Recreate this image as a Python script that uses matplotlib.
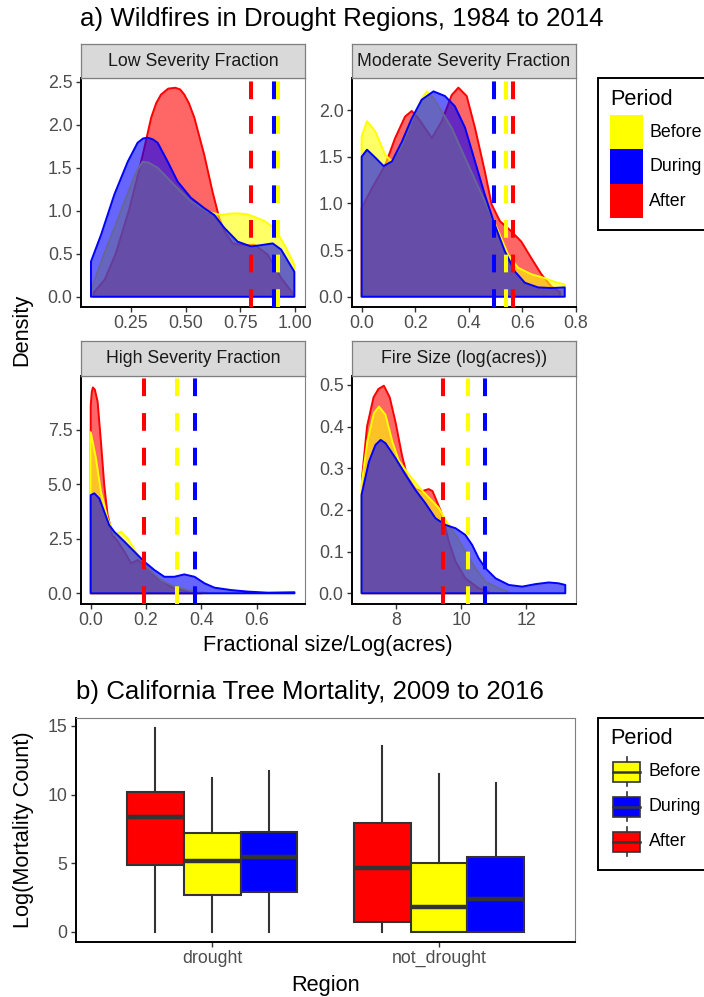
import matplotlib
matplotlib.use("Agg")
import matplotlib.pyplot as plt
from matplotlib.patches import Rectangle
from matplotlib.lines import Line2D

plt.rcParams['font.family'] = ['Liberation Sans', 'DejaVu Sans']

W, H = 704, 997

# ---- data ----
periods = ['Before', 'During', 'After']
draw_order = ['After', 'Before', 'During']
colours = {'Before': '#FFFF00', 'During': '#0000FF', 'After': '#FF0000'}

# Low Severity Fraction
low_after_x = [0.08, 0.13, 0.18, 0.24, 0.28, 0.311, 0.342, 0.365, 0.387, 0.42, 0.453, 0.475,
               0.494, 0.515, 0.54, 0.585, 0.623, 0.654, 0.68, 0.715, 0.76, 0.814, 0.875,
               0.936, 0.99]
low_after_y = [0.05, 0.2, 0.5, 1.0, 1.4, 1.73, 2.08, 2.25, 2.35, 2.42, 2.43, 2.41,
               2.35, 2.25, 2.08, 1.65, 1.22, 0.91, 0.75, 0.62, 0.6, 0.605, 0.49,
               0.22, 0.04]
low_before_x = [0.067, 0.12, 0.174, 0.25, 0.28, 0.303, 0.33, 0.372, 0.448, 0.524, 0.6,
                0.662, 0.7, 0.738, 0.78, 0.814, 0.86, 0.906, 0.959, 0.997]
low_before_y = [0.08, 0.45, 0.8, 1.3, 1.48, 1.57, 1.56, 1.50, 1.30, 1.11, 0.99,
                0.95, 0.965, 0.97, 0.96, 0.93, 0.88, 0.80, 0.57, 0.37]
low_during_x = [0.067, 0.113, 0.174, 0.235, 0.28, 0.305, 0.326, 0.35, 0.372, 0.418, 0.463,
                0.524, 0.585, 0.631, 0.677, 0.738, 0.799, 0.845, 0.898, 0.936, 0.997]
low_during_y = [0.41, 0.72, 1.19, 1.57, 1.79, 1.84, 1.85, 1.83, 1.79, 1.57, 1.34,
                1.15, 1.03, 0.95, 0.80, 0.64, 0.585, 0.60, 0.62, 0.55, 0.29]
low_means = {'After': 0.797, 'Before': 0.923, 'During': 0.906}

# Moderate Severity Fraction
mod_after_x = [0.0, 0.038, 0.088, 0.125, 0.162, 0.187, 0.212, 0.262, 0.299, 0.336, 0.361,
               0.392, 0.423, 0.46, 0.485, 0.516, 0.559, 0.596, 0.634, 0.671, 0.708, 0.74]
mod_after_y = [0.95, 1.16, 1.41, 1.70, 1.93, 1.99, 1.91, 1.70, 1.88, 2.16, 2.24,
               2.15, 1.81, 1.34, 0.99, 0.81, 0.70, 0.59, 0.41, 0.24, 0.11, 0.05]
mod_before_x = [0.0, 0.02, 0.051, 0.088, 0.113, 0.15, 0.19, 0.22, 0.243, 0.27, 0.336, 0.398,
                0.46, 0.51, 0.547, 0.584, 0.634, 0.683, 0.72, 0.758]
mod_before_y = [1.72, 1.88, 1.77, 1.52, 1.45, 1.62, 1.9, 2.1, 2.2, 2.12, 1.81, 1.41,
                1.02, 0.70, 0.45, 0.31, 0.24, 0.20, 0.16, 0.13]
mod_during_x = [0.0, 0.02, 0.051, 0.082, 0.113, 0.15, 0.187, 0.224, 0.268, 0.311, 0.348,
                0.386, 0.423, 0.46, 0.497, 0.534, 0.572, 0.609, 0.658, 0.708, 0.758]
mod_during_y = [1.50, 1.575, 1.49, 1.40, 1.45, 1.66, 1.91, 2.11, 2.20, 2.15, 2.04,
                1.81, 1.45, 1.09, 0.77, 0.49, 0.27, 0.15, 0.10, 0.093, 0.10]
mod_means = {'After': 0.564, 'Before': 0.538, 'During': 0.494}

# High Severity Fraction
high_after_x = [0.0, 0.004, 0.008, 0.015, 0.025, 0.037, 0.049, 0.061, 0.079, 0.098, 0.122,
                0.146, 0.17, 0.206, 0.242, 0.29, 0.35, 0.4]
high_after_y = [8.6, 9.25, 9.45, 9.35, 8.8, 6.96, 4.97, 3.6, 2.68, 2.37, 1.91,
                1.38, 1.53, 1.15, 0.69, 0.31, 0.08, 0.01]
high_before_x = [0.0, 0.019, 0.037, 0.061, 0.085, 0.11, 0.134, 0.17, 0.206, 0.254, 0.302,
                 0.363, 0.423]
high_before_y = [7.4, 6.2, 4.66, 3.44, 2.68, 2.83, 2.52, 1.76, 1.15, 0.61, 0.31, 0.11, 0.03]
high_during_x = [0.0, 0.013, 0.031, 0.049, 0.067, 0.085, 0.122, 0.158, 0.194, 0.23, 0.266,
                 0.302, 0.338, 0.375, 0.411, 0.447, 0.507, 0.567, 0.64, 0.736]
high_during_y = [4.51, 4.59, 4.36, 3.75, 3.13, 2.83, 2.37, 1.91, 1.45, 1.07, 0.76,
                 0.76, 0.87, 0.76, 0.46, 0.26, 0.15, 0.08, 0.03, 0.05]
high_means = {'After': 0.191, 'Before': 0.31, 'During': 0.377}

# Fire Size (log(acres))
fire_after_x = [6.95, 7.1, 7.3, 7.45, 7.62, 7.8, 7.98, 8.18, 8.34, 8.6, 8.8, 9.0, 9.12,
                9.36, 9.47, 9.62, 9.83, 10.13, 10.54, 10.85]
fire_after_y = [0.28, 0.40, 0.47, 0.49, 0.498, 0.47, 0.41, 0.33, 0.28, 0.25, 0.245, 0.25,
                0.245, 0.20, 0.172, 0.124, 0.076, 0.036, 0.012, 0.003]
fire_before_x = [6.93, 7.11, 7.31, 7.47, 7.67, 7.88, 8.08, 8.39, 8.7, 9.0, 9.31, 9.52,
                 9.83, 10.13, 10.44, 10.75, 11.16, 11.5]
fire_before_y = [0.26, 0.364, 0.432, 0.448, 0.428, 0.364, 0.318, 0.285, 0.255, 0.23, 0.205,
                 0.175, 0.14, 0.10, 0.06, 0.028, 0.012, 0.002]
fire_during_x = [6.93, 7.16, 7.36, 7.52, 7.67, 7.98, 8.29, 8.59, 8.9, 9.21, 9.52, 9.83,
                 10.13, 10.34, 10.54, 10.75, 11.06, 11.47, 11.88, 12.29, 12.7, 13.0, 13.21]
fire_during_y = [0.236, 0.316, 0.356, 0.368, 0.36, 0.324, 0.284, 0.248, 0.216, 0.18, 0.164,
                 0.156, 0.14, 0.116, 0.084, 0.06, 0.036, 0.02, 0.016, 0.022, 0.026, 0.024, 0.02]
fire_means = {'After': 9.43, 'Before': 10.2, 'During': 10.75}

# tree mortality boxplots: [whisker low, q1, median, q3, whisker high] per region
regions = ['drought', 'not_drought']
mort_after = [[0, 4.87, 8.39, 10.22, 14.84], [0, 0.68, 4.62, 7.91, 13.55]]
mort_before = [[0, 2.68, 5.18, 7.23, 11.24], [0, 0.0, 1.82, 4.99, 11.48]]
mort_during = [[0, 2.92, 5.47, 7.30, 11.68], [0, 0.0, 2.36, 5.43, 10.83]]

# ---- layout helpers (pixel boxes) ----
fig = plt.figure(figsize=(W / 100, H / 100), dpi=100)


def px_axes(l, t, r, b):
    return fig.add_axes([l / W, 1 - b / H, (r - l) / W, (b - t) / H])


def px_text(x, y, s, **kw):
    fig.text(x / W, 1 - y / H, s, **kw)


TICK_COL = '#4D4D4D'


def style_axes(ax):
    for s in ['top', 'right']:
        ax.spines[s].set_color('#7F7F7F')
        ax.spines[s].set_linewidth(0.8)
    for s in ['left', 'bottom']:
        ax.spines[s].set_color('black')
        ax.spines[s].set_linewidth(1.4)
    ax.tick_params(length=3.6, width=1.0, color='#333333', labelcolor=TICK_COL,
                   labelsize=12.8, pad=2.5)


panels = [
    ('Low Severity Fraction', (81, 78.3, 305, 306.7), (0.0214, 1.0457), (-0.116, 2.54),
     [0.25, 0.5, 0.75, 1.0], ['0.25', '0.50', '0.75', '1.00'],
     [0, 0.5, 1.0, 1.5, 2.0, 2.5], ['0.0', '0.5', '1.0', '1.5', '2.0', '2.5'],
     {'After': (low_after_x, low_after_y), 'Before': (low_before_x, low_before_y),
      'During': (low_during_x, low_during_y)}, low_means),
    ('Moderate Severity Fraction', (352, 78.3, 576, 306.7), (-0.036, 0.797), (-0.107, 2.34),
     [0, 0.2, 0.4, 0.6, 0.8], ['0.0', '0.2', '0.4', '0.6', '0.8'],
     [0, 0.5, 1.0, 1.5, 2.0], ['0.0', '0.5', '1.0', '1.5', '2.0'],
     {'After': (mod_after_x, mod_after_y), 'Before': (mod_before_x, mod_before_y),
      'During': (mod_during_x, mod_during_y)}, mod_means),
    ('High Severity Fraction', (81, 375.7, 305, 604), (-0.035, 0.774), (-0.49, 9.99),
     [0, 0.2, 0.4, 0.6], ['0.0', '0.2', '0.4', '0.6'],
     [0, 2.5, 5.0, 7.5], ['0.0', '2.5', '5.0', '7.5'],
     {'After': (high_after_x, high_after_y), 'Before': (high_before_x, high_before_y),
      'During': (high_during_x, high_during_y)}, high_means),
    ('Fire Size (log(acres))', (352, 375.7, 576, 604), (6.637, 13.54), (-0.0257, 0.522),
     [8, 10, 12], ['8', '10', '12'],
     [0, 0.1, 0.2, 0.3, 0.4, 0.5], ['0.0', '0.1', '0.2', '0.3', '0.4', '0.5'],
     {'After': (fire_after_x, fire_after_y), 'Before': (fire_before_x, fire_before_y),
      'During': (fire_during_x, fire_during_y)}, fire_means),
]

for title, (l, t, r, b), xlim, ylim, xt, xtl, yt, ytl, curves, means in panels:
    ax = px_axes(l, t, r, b)
    for p in draw_order:
        xs, ys = curves[p]
        px = [xs[0]] + list(xs) + [xs[-1]]
        py = [0] + list(ys) + [0]
        ax.fill(px, py, facecolor=colours[p], alpha=0.6, edgecolor='none', zorder=2)
        ax.fill(px, py, facecolor='none', edgecolor=colours[p], linewidth=1.4,
                joinstyle='round', zorder=2)
    for p in draw_order:
        ax.plot([means[p], means[p]], [ylim[0], ylim[1]], color=colours[p], linewidth=2.9,
                linestyle=(0, (4.4, 4.2)), solid_capstyle='butt', zorder=3)
    ax.set_xlim(*xlim)
    ax.set_ylim(*ylim)
    ax.set_xticks(xt)
    ax.set_xticklabels(xtl)
    ax.set_yticks(yt)
    ax.set_yticklabels(ytl)
    style_axes(ax)

    st = px_axes(l, t - 34.3, r, t)
    st.set_facecolor('#D9D9D9')
    st.set_xticks([])
    st.set_yticks([])
    for s in st.spines.values():
        s.set_color('#7F7F7F')
        s.set_linewidth(0.9)
    st.text(0.5, 0.5, title, ha='center', va='center', fontsize=12.8, color='#1A1A1A',
            transform=st.transAxes)

px_text(80, 19, 'a) Wildfires in Drought Regions, 1984 to 2014', fontsize=18.6,
        ha='left', va='center', color='black')
px_text(22, 330, 'Density', fontsize=15.7, rotation=90, ha='center', va='center')
px_text(328, 645, 'Fractional size/Log(acres)', fontsize=15.7, ha='center', va='center')


def legend_box(top, bottom):
    fig.patches.append(Rectangle((598.3 / W, 1 - bottom / H), 140 / W, (bottom - top) / H,
                                 transform=fig.transFigure, facecolor='white',
                                 edgecolor='black', linewidth=1.4, zorder=5))


# top legend
legend_box(78.3, 230)
px_text(610, 99.5, 'Period', fontsize=15.7, ha='left', va='center', zorder=6)
key_tops = [115, 149.3, 184]
for p, kt in zip(periods, key_tops):
    fig.patches.append(Rectangle((610 / W, 1 - (kt + 34.3) / H), 33.3 / W, 34.3 / H,
                                 transform=fig.transFigure, facecolor=colours[p],
                                 edgecolor='none', zorder=6))
    px_text(649.3, kt + 17.5, p, fontsize=12.8, ha='left', va='center', zorder=6)

# ---- b) boxplots ----
axb = px_axes(76, 718, 575.3, 941.7)
box_data = {'After': mort_after, 'Before': mort_before, 'During': mort_during}
offsets = {'After': -0.25, 'Before': 0.0, 'During': 0.25}
for p in draw_order:
    stats = []
    for vals in box_data[p]:
        stats.append({'whislo': vals[0], 'q1': vals[1], 'med': vals[2], 'q3': vals[3],
                      'whishi': vals[4], 'fliers': []})
    pos = [i + 1 + offsets[p] for i in range(len(regions))]
    axb.bxp(stats, positions=pos, widths=0.25, patch_artist=True, showcaps=False,
            showfliers=False, manage_ticks=False,
            boxprops=dict(facecolor=colours[p], edgecolor='#333333', linewidth=1.5),
            medianprops=dict(color='#333333', linewidth=3.2, solid_capstyle='butt'),
            whiskerprops=dict(color='#333333', linewidth=1.5))
axb.set_xlim(0.4, 2.6)
axb.set_ylim(-0.73, 15.58)
axb.set_xticks([1, 2])
axb.set_xticklabels(regions)
axb.set_yticks([0, 5, 10, 15])
style_axes(axb)

px_text(76, 692, 'b) California Tree Mortality, 2009 to 2016', fontsize=18.6,
        ha='left', va='center')
px_text(24, 830, 'Log(Mortality Count)', fontsize=15.7, rotation=90, ha='center', va='center')
px_text(326, 985, 'Region', fontsize=15.7, ha='center', va='center')

# bottom legend
legend_box(717.7, 870)
px_text(610, 738, 'Period', fontsize=15.7, ha='left', va='center', zorder=6)
for p, cy in zip(periods, [771.7, 806.7, 841.7]):
    fig.lines.append(Line2D([626.5 / W, 626.5 / W], [1 - (cy - 14.5) / H, 1 - (cy + 14.5) / H],
                            transform=fig.transFigure, color='#333333', linewidth=1.2,
                            zorder=6))
    fig.patches.append(Rectangle((613 / W, 1 - (cy + 10) / H), 27 / W, 20 / H,
                                 transform=fig.transFigure, facecolor=colours[p],
                                 edgecolor='#333333', linewidth=1.2, zorder=7))
    fig.lines.append(Line2D([613 / W, 640 / W], [1 - cy / H, 1 - cy / H],
                            transform=fig.transFigure, color='#333333', linewidth=1.8,
                            zorder=8))
    px_text(648.7, cy, p, fontsize=12.8, ha='left', va='center', zorder=6)

fig.savefig('out.png', dpi=100)
